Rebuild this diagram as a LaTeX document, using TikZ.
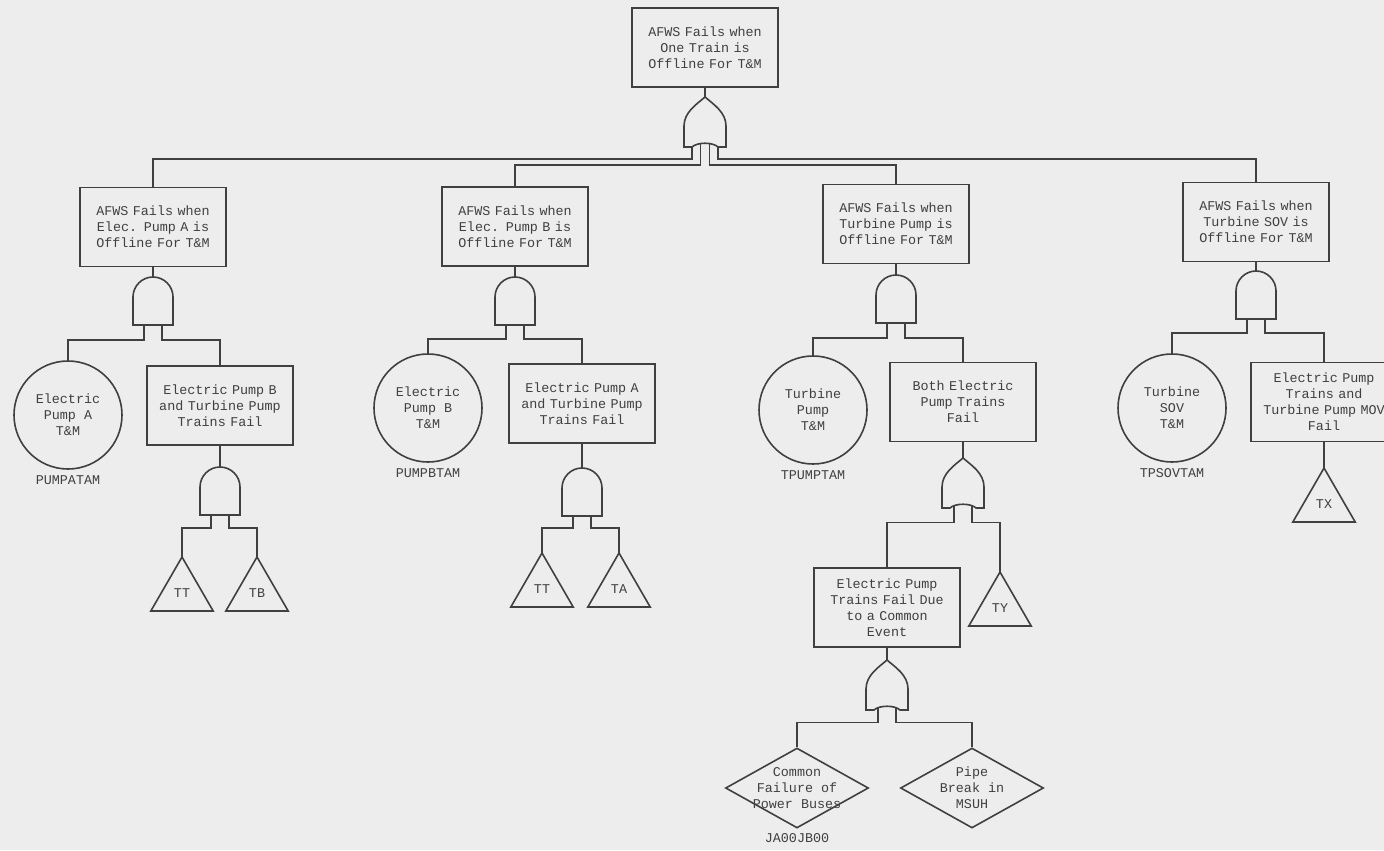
\documentclass[tikz,border=0pt]{standalone}
\usepackage{fontspec}
\setmonofont{Liberation Mono}
\usepackage{tikz}
\usetikzlibrary{shapes.geometric, positioning}
\tikzset{
 block/.style = {
    rectangle, draw,
    text width=66pt,
    align=center,
    minimum width=73pt,
    minimum height=39.5pt},
 basic/.style = {
    circle, draw, align=center,
    minimum size=54pt, inner sep=0pt},
 transfer/.style = {
    regular polygon, regular polygon sides=3, draw,
    minimum size=36pt, inner sep=0pt, outer sep=0pt},
 undev/.style = {
    diamond, draw,
    minimum width=71.5pt, minimum height=40pt, inner sep=0pt},
 tag/.style = {
    inner sep=1pt},
 wire/.style = {
    draw},
 andgate/.pic = {
    \draw (-20,48) -- (-20,20) .. controls (-20,9) and (-11,0) .. (0,0)
          .. controls (11,0) and (20,9) .. (20,20) -- (20,48) -- cycle;
    \coordinate (-top) at (0,0);
    \coordinate (-l) at (-9,48);
    \coordinate (-r) at (9,48);
 },
 orgate/.pic = {
    \draw (0,0) .. controls (8,7) and (21,15) .. (21,29) -- (21,50) -- (13,50)
          .. controls (8,45) and (-8,45) .. (-13,50) -- (-21,50) -- (-21,29)
          .. controls (-21,15) and (-8,7) .. cycle;
    \coordinate (-top) at (0,0);
    \coordinate (-l) at (-9,47.6);
    \coordinate (-r) at (9,47.6);
    \coordinate (-il) at (-4.5,46.6);
    \coordinate (-ir) at (4.5,46.6);
    \coordinate (-ol) at (-13,50);
    \coordinate (-or) at (13,50);
 },
}

\begin{document}
\begin{tikzpicture}[x=0.5pt, y=-0.5pt, line width=0.8pt, color=black!75,
    font=\ttfamily\fontsize{6.7}{8}\selectfont]

    \useasboundingbox (0,0) rectangle (1384,850);
    \fill [black!7] (0,0) rectangle (1384,850);

    % Place nodes
    \node [block] (top) at (705,47.5) {AFWS Fails when\\One Train is\\Offline For T\&M};
    \pic (g0) at (705,97) {orgate};

    \node [block] (fA) at (153,227)   {AFWS Fails when\\Elec. Pump A is\\Offline For T\&M};
    \node [block] (fB) at (515,226.5) {AFWS Fails when\\Elec. Pump B is\\Offline For T\&M};
    \node [block] (fT) at (896,224)   {AFWS Fails when\\Turbine Pump is\\Offline For T\&M};
    \node [block] (fS) at (1256,222)  {AFWS Fails when\\Turbine SOV is\\Offline For T\&M};

    \pic (gA) at (153,277) {andgate};
    \pic (gB) at (515,277) {andgate};
    \pic (gT) at (896,275) {andgate};
    \pic (gS) at (1256,271) {andgate};

    % pump A branch
    \node [basic] (cA) at (68,415) {Electric\\Pump A\\T\&M};
    \node [tag, below=1.5pt of cA] (lA) {PUMPATAM};
    \node [block] (sA) at (220,405.5) {Electric Pump B\\and Turbine Pump\\Trains Fail};
    \pic (hA) at (220,467) {andgate};
    \node [transfer, anchor=corner 1] (tA1) at (182,557) {TT};
    \node [transfer, anchor=corner 1] (tA2) at (257,557) {TB};

    % pump B branch
    \node [basic] (cB) at (428,408) {Electric\\Pump B\\T\&M};
    \node [tag, below=1.5pt of cB] (lB) {PUMPBTAM};
    \node [block] (sB) at (582,403.5) {Electric Pump A\\and Turbine Pump\\Trains Fail};
    \pic (hB) at (582,468) {andgate};
    \node [transfer, anchor=corner 1] (tB1) at (542,553) {TT};
    \node [transfer, anchor=corner 1] (tB2) at (619,553) {TA};

    % turbine pump branch
    \node [basic] (cT) at (813,410) {Turbine\\Pump\\T\&M};
    \node [tag, below=1.5pt of cT] (lT) {TPUMPTAM};
    \node [block] (sT) at (963,402) {Both Electric\\Pump Trains\\Fail};
    \pic (hT) at (963,458) {orgate};
    \node [block] (sC) at (887,607.5) {Electric Pump\\Trains Fail Due\\to a Common\\Event};
    \node [transfer, anchor=corner 1] (tT) at (1000,572) {TY};
    \pic (hC) at (887,660) {orgate};
    \node [undev, label={[align=center]center:Common\\Failure of\\Power Buses}] (d1) at (797,788) {};
    \node [tag, below=1pt of d1] (lD) {JA00JB00};
    \node [undev, label={[align=center]center:Pipe\\Break in\\MSUH}] (d2) at (972,788) {};

    % turbine SOV branch
    \node [basic] (cS) at (1172,408) {Turbine\\SOV\\T\&M};
    \node [tag, below=1.5pt of cS] (lS) {TPSOVTAM};
    \node [block] (sS) at (1324,402) {Electric Pump\\Trains and\\Turbine Pump MOV\\Fail};
    \node [transfer, anchor=corner 1] (tS) at (1324,468) {TX};

    % Wires
    \path [wire] (top.south) -- (g0-top);
    \path [wire] (g0-ol) -- ++(0,12) -| (fA.north);
    \path [wire] (g0-il) -- ++(0,21.5) -| (fB.north);
    \path [wire] (g0-ir) -- ++(0,21.5) -| (fT.north);
    \path [wire] (g0-or) -- ++(0,12) -| (fS.north);

    \path [wire] (fA.south) -- (gA-top);
    \path [wire] (fB.south) -- (gB-top);
    \path [wire] (fT.south) -- (gT-top);
    \path [wire] (fS.south) -- (gS-top);

    \path [wire] (gA-l) -- ++(0,15) -| (cA.north);
    \path [wire] (gA-r) -- ++(0,15) -| (sA.north);
    \path [wire] (sA.south) -- (hA-top);
    \path [wire] (hA-l) -- ++(0,13) -| (tA1.corner 1);
    \path [wire] (hA-r) -- ++(0,13) -| (tA2.corner 1);

    \path [wire] (gB-l) -- ++(0,14) -| (cB.north);
    \path [wire] (gB-r) -- ++(0,14) -| (sB.north);
    \path [wire] (sB.south) -- (hB-top);
    \path [wire] (hB-l) -- ++(0,12) -| (tB1.corner 1);
    \path [wire] (hB-r) -- ++(0,12) -| (tB2.corner 1);

    \path [wire] (gT-l) -- ++(0,15) -| (cT.north);
    \path [wire] (gT-r) -- ++(0,15) -| (sT.north);
    \path [wire] (sT.south) -- (hT-top);
    \path [wire] (hT-l) -- ++(0,17) -| (sC.north);
    \path [wire] (hT-r) -- ++(0,17) -| (tT.corner 1);
    \path [wire] (sC.south) -- (hC-top);
    \path [wire] (hC-l) -- ++(0,15) -| (d1.north);
    \path [wire] (hC-r) -- ++(0,15) -| (d2.north);

    \path [wire] (gS-l) -- ++(0,14) -| (cS.north);
    \path [wire] (gS-r) -- ++(0,14) -| (sS.north);
    \path [wire] (sS.south) -- (tS.corner 1);

\end{tikzpicture}
\end{document}
